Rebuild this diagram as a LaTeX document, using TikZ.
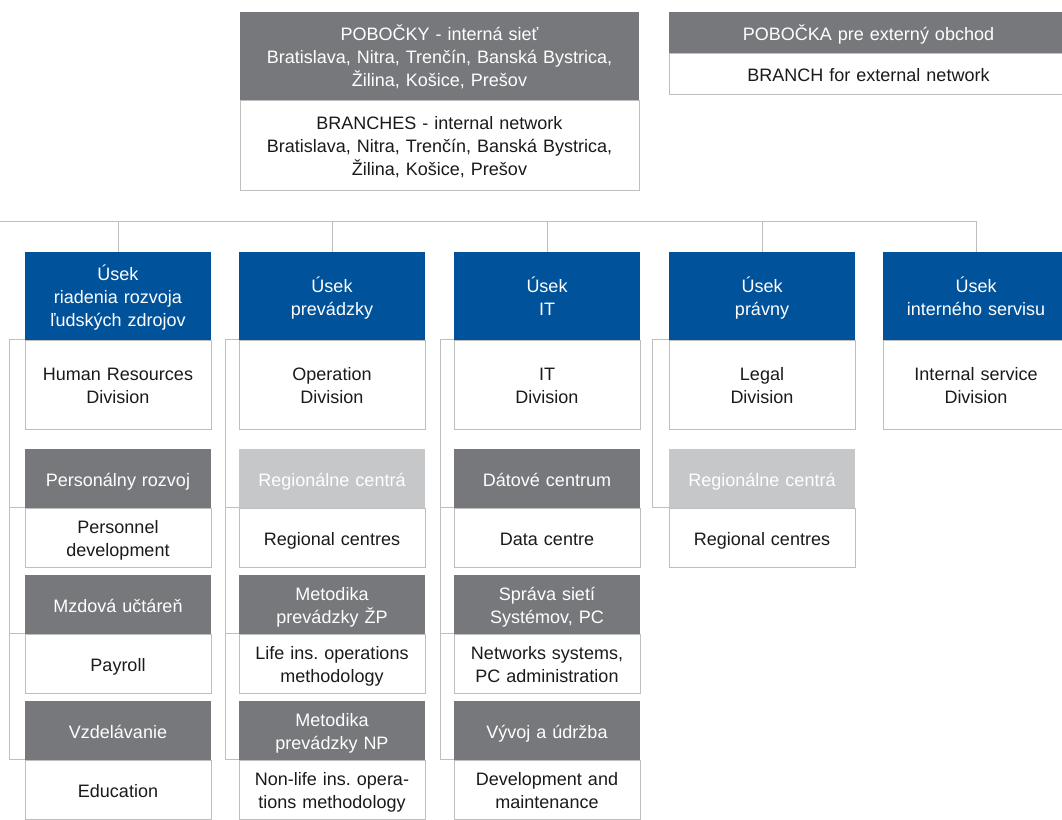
\documentclass[tikz,border=0pt]{standalone}
\usepackage{fontspec}
\setmainfont{Liberation Sans}
\frenchspacing
\definecolor{ublue}{RGB}{0,82,155}
\definecolor{udark}{RGB}{119,120,123}
\definecolor{ulight}{RGB}{198,199,200}
\definecolor{uline}{RGB}{190,190,190}
\definecolor{utext}{RGB}{26,26,26}
\tikzset{
  box/.style={rectangle, inner sep=0pt, minimum width=186pt, text width=184pt, align=center, font={\fontsize{18}{23}\selectfont\frenchspacing},
    execute at begin node={\rule{0pt}{19pt}}, execute at end node={\rule[-4pt]{0pt}{4pt}}},
  wide/.style={minimum width=399pt, text width=395pt},
  hblue/.style={box, fill=ublue, text=white},
  hdark/.style={box, fill=udark, text=white},
  hlight/.style={box, fill=ulight, text=white},
  wbox/.style={box, fill=white, draw=uline, line width=0.9pt, text=utext},
  rowAh/.style={minimum height=88pt},
  rowAw/.style={minimum height=89pt},
  rowS/.style={minimum height=59pt},
  conn/.style={draw=uline, line width=0.9pt},
}
\begin{document}
\begin{tikzpicture}[x=1pt,y=-1pt]
\useasboundingbox (0,0) rectangle (1062,819);
\clip (0,0) rectangle (1062,819);

% top boxes
\node[hdark, wide, minimum height=88pt] (tph) at (439.5,56) {POBOČKY - interná sieť\\Bratislava, Nitra, Trenčín, Banská Bystrica,\\Žilina, Košice, Prešov};
\node[wbox, wide, minimum height=90pt] (tpw) at (439.5,145) {BRANCHES - internal network\\Bratislava, Nitra, Trenčín, Banská Bystrica,\\Žilina, Košice, Prešov};
\node[hdark, wide, minimum height=41pt] (trh) at (868.5,32.5) {POBOČKA pre externý obchod};
\node[wbox, wide, minimum height=41pt] (trw) at (868.5,73.5) {BRANCH for external network};

% column 1
\node[hblue, rowAh] (h1) at (118,296) {Úsek\\riadenia rozvoja\\ľudských zdrojov};
\node[wbox, rowAw] (w1a) at (118,384.5) {Human Resources\\Division};
\node[hdark, rowS] (g1b) at (118,478.5) {Personálny rozvoj};
\node[wbox, rowS] (w1b) at (118,537.5) {Personnel\\development};
\node[hdark, rowS] (g1c) at (118,604.5) {Mzdová učtáreň};
\node[wbox, rowS] (w1c) at (118,663.5) {Payroll};
\node[hdark, rowS] (g1d) at (118,730.5) {Vzdelávanie};
\node[wbox, rowS] (w1d) at (118,789.5) {Education};

% column 2
\node[hblue, rowAh] (h2) at (332,296) {Úsek\\prevádzky};
\node[wbox, rowAw] (w2a) at (332,384.5) {Operation\\Division};
\node[hlight, rowS] (g2b) at (332,478.5) {Regionálne centrá};
\node[wbox, rowS] (w2b) at (332,537.5) {Regional centres};
\node[hdark, rowS] (g2c) at (332,604.5) {Metodika\\prevádzky ŽP};
\node[wbox, rowS] (w2c) at (332,663.5) {Life ins. operations\\methodology};
\node[hdark, rowS] (g2d) at (332,730.5) {Metodika\\prevádzky NP};
\node[wbox, rowS] (w2d) at (332,789.5) {Non-life ins. opera-\\tions methodology};

% column 3
\node[hblue, rowAh] (h3) at (547,296) {Úsek\\IT};
\node[wbox, rowAw] (w3a) at (547,384.5) {IT\\Division};
\node[hdark, rowS] (g3b) at (547,478.5) {Dátové centrum};
\node[wbox, rowS] (w3b) at (547,537.5) {Data centre};
\node[hdark, rowS] (g3c) at (547,604.5) {Správa sietí\\Systémov, PC};
\node[wbox, rowS] (w3c) at (547,663.5) {Networks systems,\\PC administration};
\node[hdark, rowS] (g3d) at (547,730.5) {Vývoj a údržba};
\node[wbox, rowS] (w3d) at (547,789.5) {Development and\\maintenance};

% column 4
\node[hblue, rowAh] (h4) at (762,296) {Úsek\\právny};
\node[wbox, rowAw] (w4a) at (762,384.5) {Legal\\Division};
\node[hlight, rowS] (g4b) at (762,478.5) {Regionálne centrá};
\node[wbox, rowS] (w4b) at (762,537.5) {Regional centres};

% column 5
\node[hblue, rowAh] (h5) at (976,296) {Úsek\\interného servisu};
\node[wbox, rowAw] (w5a) at (976,384.5) {Internal service\\Division};

% bus
\coordinate (busL) at (0,221);
\draw[conn] (busL) -| (h5.north);
\foreach \c in {h1,h2,h3,h4} \draw[conn] (\c.north) -- (\c.north |- busL);

% brackets
\draw[conn] (w1a.north west) -- ++(-15,0) |- (w1d.north west);
\draw[conn] (w1b.north west) -- ++(-15,0);
\draw[conn] (w1c.north west) -- ++(-15,0);

\draw[conn] (w2a.north west) -- ++(-13,0) |- (w2d.north west);
\draw[conn] (w2b.north west) -- ++(-13,0);
\draw[conn] (w2c.north west) -- ++(-13,0);

\draw[conn] (w3a.north west) -- ++(-13,0) |- (w3d.north west);
\draw[conn] (w3b.north west) -- ++(-13,0);
\draw[conn] (w3c.north west) -- ++(-13,0);

\draw[conn] (w4a.north west) -- ++(-16,0) |- (w4b.north west);
\end{tikzpicture}
\end{document}
